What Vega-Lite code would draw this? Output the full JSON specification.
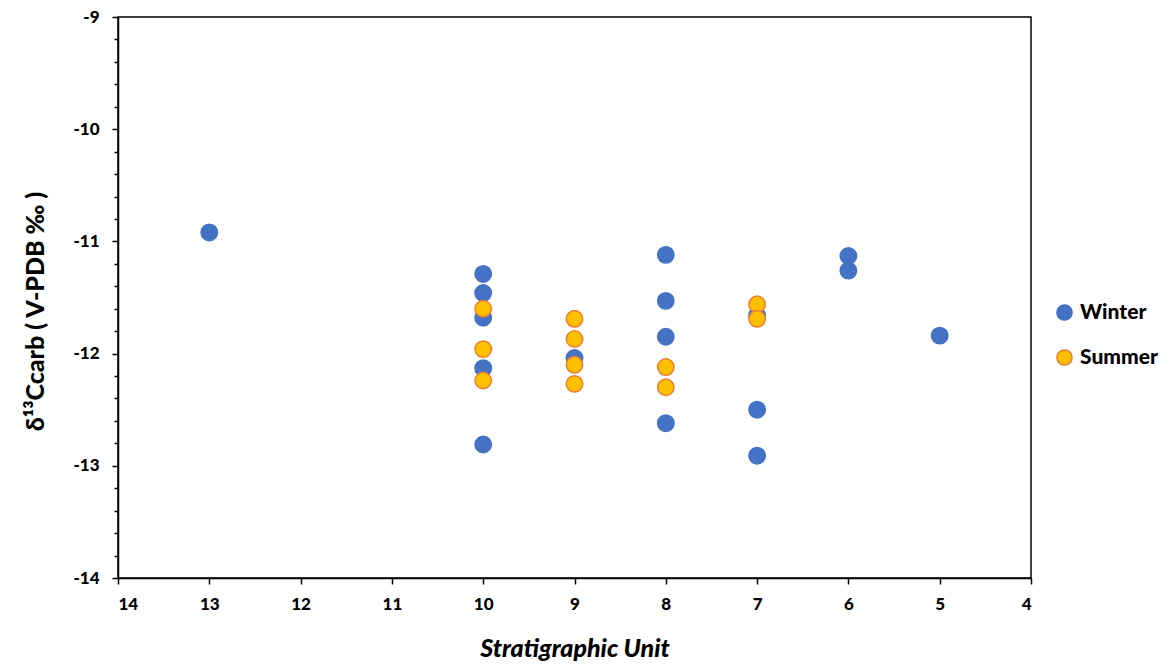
{
  "$schema": "https://vega.github.io/schema/vega-lite/v6.json",
  "width": 913,
  "height": 561,
  "autosize": "none",
  "padding": {"left": 118, "top": 17, "right": 138, "bottom": 86},
  "background": "white",
  "config": {
    "view": {"stroke": "black", "strokeWidth": 1.5},
    "font": "Lato"
  },
  "data": {
    "values": [
      {"unit": 13, "d13C": -10.92, "season": "Winter"},
      {"unit": 10, "d13C": -11.29, "season": "Winter"},
      {"unit": 10, "d13C": -11.46, "season": "Winter"},
      {"unit": 10, "d13C": -11.68, "season": "Winter"},
      {"unit": 10, "d13C": -12.13, "season": "Winter"},
      {"unit": 10, "d13C": -12.81, "season": "Winter"},
      {"unit": 9, "d13C": -12.04, "season": "Winter"},
      {"unit": 8, "d13C": -11.12, "season": "Winter"},
      {"unit": 8, "d13C": -11.53, "season": "Winter"},
      {"unit": 8, "d13C": -11.85, "season": "Winter"},
      {"unit": 8, "d13C": -12.62, "season": "Winter"},
      {"unit": 7, "d13C": -11.66, "season": "Winter"},
      {"unit": 7, "d13C": -12.5, "season": "Winter"},
      {"unit": 7, "d13C": -12.91, "season": "Winter"},
      {"unit": 6, "d13C": -11.13, "season": "Winter"},
      {"unit": 6, "d13C": -11.26, "season": "Winter"},
      {"unit": 5, "d13C": -11.84, "season": "Winter"},
      {"unit": 10, "d13C": -11.6, "season": "Summer"},
      {"unit": 10, "d13C": -11.96, "season": "Summer"},
      {"unit": 10, "d13C": -12.24, "season": "Summer"},
      {"unit": 9, "d13C": -11.69, "season": "Summer"},
      {"unit": 9, "d13C": -11.87, "season": "Summer"},
      {"unit": 9, "d13C": -12.1, "season": "Summer"},
      {"unit": 9, "d13C": -12.27, "season": "Summer"},
      {"unit": 8, "d13C": -12.12, "season": "Summer"},
      {"unit": 8, "d13C": -12.3, "season": "Summer"},
      {"unit": 7, "d13C": -11.56, "season": "Summer"},
      {"unit": 7, "d13C": -11.69, "season": "Summer"}
    ]
  },
  "layer": [
    {
      "mark": {"type": "point", "filled": true, "opacity": 1, "size": 270, "shape": "circle", "strokeWidth": 1.5},
      "encoding": {
        "x": {
          "field": "unit", "type": "quantitative",
          "scale": {"domain": [4, 14], "reverse": true, "nice": false, "zero": false},
          "axis": {
            "values": [4, 5, 6, 7, 8, 9, 10, 11, 12, 13, 14],
            "labelExpr": "toString(datum.value)",
            "grid": false, "domainColor": "black", "domainWidth": 1.5,
            "tickColor": "black", "tickWidth": 1.5, "tickSize": 6,
            "labelFont": "Lato", "labelFontSize": 17, "labelFontWeight": 900, "labelColor": "black",
            "labelPadding": 12,
            "title": "Stratigraphic Unit", "titleFont": "Lato", "titleFontSize": 25,
            "titleFontWeight": 900, "titleFontStyle": "italic", "titleColor": "black",
            "titlePadding": 24
          }
        },
        "y": {
          "field": "d13C", "type": "quantitative",
          "scale": {"domain": [-14, -9], "nice": false, "zero": false},
          "axis": {
            "values": [-14, -13, -12, -11, -10, -9],
            "labelExpr": "toString(datum.value)",
            "grid": false, "domainColor": "black", "domainWidth": 1.5,
            "tickColor": "black", "tickWidth": 1.5, "tickSize": 6,
            "labelFont": "Lato", "labelFontSize": 17, "labelFontWeight": 900, "labelColor": "black",
            "labelPadding": 13,
            "title": "δ¹³Ccarb ( V-PDB ‰ )", "titleFont": "Lato", "titleFontSize": 25,
            "titleFontWeight": 900, "titleColor": "black", "titlePadding": 24,
            "titleY": 294
          }
        },
        "fill": {
          "field": "season", "type": "nominal",
          "scale": {"domain": ["Winter", "Summer"], "range": ["#4472C4", "#FFC000"]},
          "legend": {
            "title": null, "orient": "none", "legendX": 936, "legendY": 285,
            "labelFont": "Lato", "labelFontSize": 21, "labelFontWeight": 900, "labelColor": "black",
            "symbolSize": 230, "rowPadding": 22, "labelOffset": 5, "symbolStrokeWidth": 1.5
          }
        },
        "stroke": {
          "field": "season", "type": "nominal",
          "scale": {"domain": ["Winter", "Summer"], "range": ["#4472C4", "#ED7D31"]},
          "legend": null
        },
        "order": {"field": "season", "sort": "descending"}
      }
    },
    {
      "mark": {"type": "point", "opacity": 0, "size": 1},
      "encoding": {
        "x": {"field": "unit", "type": "quantitative"},
        "y": {
          "field": "d13C", "type": "quantitative",
          "axis": {
            "orient": "left",
            "values": [-13.8, -13.6, -13.4, -13.2, -12.8, -12.6, -12.4, -12.2, -11.8, -11.6, -11.4, -11.2, -10.8, -10.6, -10.4, -10.2, -9.8, -9.6, -9.4, -9.2],
            "labels": false, "domain": false, "grid": false, "title": null,
            "tickColor": "black", "tickWidth": 1.5, "tickSize": 4
          }
        }
      }
    }
  ],
  "resolve": {"axis": {"y": "independent"}}
}
